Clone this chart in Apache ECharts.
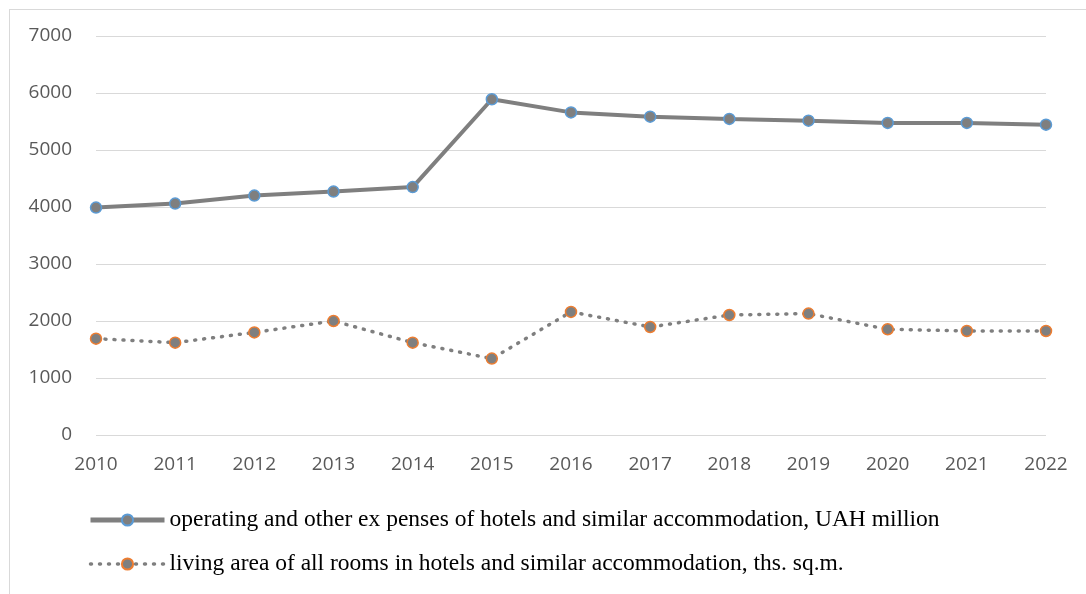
<!DOCTYPE html>
<html>
<head>
<meta charset="utf-8">
<script src="https://cdn.jsdelivr.net/npm/echarts@6/dist/echarts.min.js"></script>
<style>
  html, body { margin: 0; padding: 0; background: #fff; }
  #frame { position: absolute; left: 9px; top: 9px; width: 1090px; height: 600px; border: 1px solid #d9d9d9; box-sizing: border-box; }
  #chart { position: absolute; left: 0; top: 0; width: 1086px; height: 594px; }
</style>
</head>
<body>
<div id="frame"></div>
<div id="chart"></div>
<script>
// data
var years = ['2010','2011','2012','2013','2014','2015','2016','2017','2018','2019','2020','2021','2022'];
var expenses = [3990, 4060, 4200, 4270, 4350, 5890, 5660, 5585, 5545, 5515, 5475, 5475, 5445];
var livingArea = [1690, 1620, 1800, 2000, 1620, 1340, 2160, 1895, 2105, 2130, 1855, 1825, 1825];
var names = [
    'operating and other ex penses of hotels and similar accommodation, UAH million',
    'living area of all rooms in hotels and similar accommodation, ths. sq.m.'
];

var myChart = echarts.init(document.getElementById('chart'));
var option = {
    animation: false,
    grid: {
        left: 96,
        right: 40,
        top: 36,
        bottom: 159
    },
    legend: {
        orient: 'vertical',
        left: 83,
        top: 503,
        itemGap: 20,
        itemWidth: 74,
        itemHeight: 14,
        textStyle: {
            fontFamily: 'Liberation Serif',
            fontSize: 23.5,
            color: '#000'
        },
        data: [
            { name: names[0], lineStyle: { width: 5 } },
            { name: names[1], lineStyle: { width: 3.5 } }
        ]
    },
    xAxis: {
        type: 'category',
        boundaryGap: false,
        data: years,
        axisLine: { show: false },
        axisTick: { show: false },
        axisLabel: {
            color: '#595959',
            fontFamily: 'Open Sans',
            fontSize: 19,
            margin: 20
        }
    },
    yAxis: {
        type: 'value',
        min: 0,
        max: 7000,
        interval: 1000,
        axisLine: { show: false },
        axisTick: { show: false },
        axisLabel: {
            color: '#595959',
            fontFamily: 'Open Sans',
            fontSize: 19,
            margin: 24,
            formatter: function (v) { return String(v); }
        },
        splitLine: { lineStyle: { color: '#d9d9d9', width: 1 } }
    },
    series: [
        {
            name: names[0],
            type: 'line',
            data: expenses,
            symbol: 'circle',
            symbolSize: 11,
            lineStyle: { color: '#7f7f7f', width: 4 },
            itemStyle: { color: '#7f7f7f', borderColor: '#5b9bd5', borderWidth: 1.5 }
        },
        {
            name: names[1],
            type: 'line',
            data: livingArea,
            symbol: 'circle',
            symbolSize: 11,
            lineStyle: { color: '#7f7f7f', width: 3.5, type: [1, 8], cap: 'round' },
            itemStyle: { color: '#7f7f7f', borderColor: '#ed7d31', borderWidth: 1.5 }
        }
    ]
};
myChart.setOption(option);
</script>
</body>
</html>
